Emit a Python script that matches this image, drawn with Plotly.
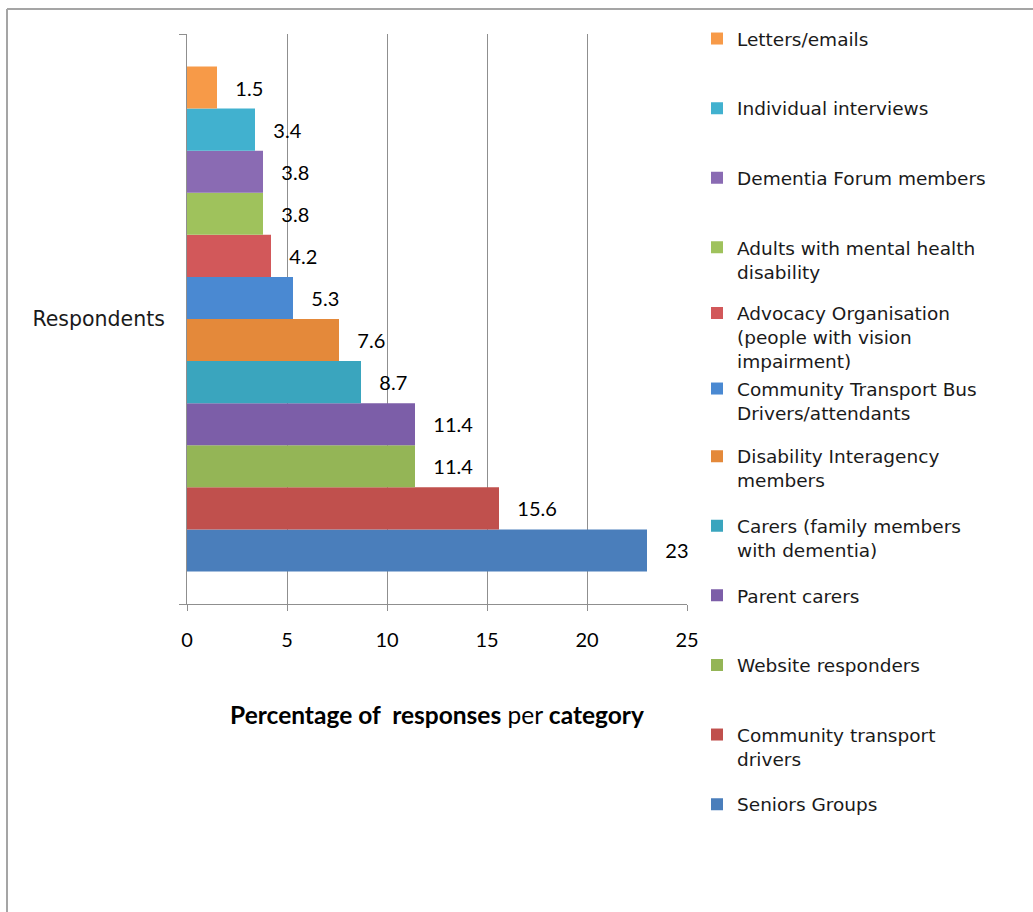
import plotly.graph_objects as go

# Respondent groups, listed from the top bar down to the bottom bar
categories = [
    "Letters/emails",
    "Individual interviews",
    "Dementia Forum members",
    "Adults with mental health<br>disability",
    "Advocacy Organisation<br>(people with vision<br>impairment)",
    "Community Transport Bus<br>Drivers/attendants",
    "Disability Interagency<br>members",
    "Carers (family members<br>with dementia)",
    "Parent carers",
    "Website responders",
    "Community transport<br>drivers",
    "Seniors Groups",
]
percentages = [1.5, 3.4, 3.8, 3.8, 4.2, 5.3, 7.6, 8.7, 11.4, 11.4, 15.6, 23]
colors = [
    "#F79A48", "#41B1CF", "#8A6BB3", "#9FC25C", "#D2585A", "#4A89D2",
    "#E4893A", "#3AA5BE", "#7C5EA8", "#94B556", "#C0504D", "#4A7EBB",
]
group_label = "Respondents"
x_ticks = [0, 5, 10, 15, 20, 25]

W, H = 1033, 912
L, R, T, B = 187, 346, 34, 308
PLOT_W = W - L - R
PLOT_H = H - T - B


def paper_x(px):
    return (px - L) / PLOT_W


def paper_y(py):
    return (H - B - py) / PLOT_H


legend_font = dict(family="DejaVu Sans", size=18.5, color="#1a1a1a")
label_font = dict(family="Lato", size=20, color="#000000")

fig = go.Figure()
n = len(categories)
# Plotly stacks grouped horizontal bars bottom-up, so add the bottom bar first
for idx in reversed(range(n)):
    legend_id = "legend" if idx == 0 else f"legend{idx + 1}"
    fig.add_trace(
        go.Bar(
            y=[group_label],
            x=[percentages[idx]],
            orientation="h",
            name=categories[idx],
            marker=dict(color=colors[idx], line=dict(width=0)),
            text=[percentages[idx]],
            texttemplate="\u00a0\u00a0\u00a0%{x}",
            textposition="outside",
            textfont=label_font,
            constraintext="none",
            cliponaxis=False,
            legend=legend_id,
            hoverinfo="x+name",
        )
    )

# One legend per series so that entries sit on an even vertical pitch;
# the three-line entry is nudged up a little to leave room below it
first_row = 37
row_pitch = 69.6
row_nudge = {4: -4, 5: 2}
legends = {}
for idx in range(n):
    key = "legend" if idx == 0 else f"legend{idx + 1}"
    top_px = first_row + idx * row_pitch - 17 + row_nudge.get(idx, 0)
    legends[key] = dict(
        x=paper_x(697),
        xanchor="left",
        y=paper_y(top_px),
        yanchor="top",
        valign="top",
        font=legend_font,
        bgcolor="rgba(0,0,0,0)",
        borderwidth=0,
        itemclick=False,
        itemdoubleclick=False,
    )

fig.update_layout(
    width=W,
    height=H,
    margin=dict(l=L, r=R, t=T, b=B, pad=0),
    paper_bgcolor="white",
    plot_bgcolor="white",
    barmode="group",
    bargap=0.114,
    bargroupgap=0,
    showlegend=True,
    font=dict(family="Lato", color="#111111"),
    **legends,
)

fig.update_xaxes(
    range=[0, 25],
    tickvals=x_ticks,
    ticktext=[str(v) for v in x_ticks],
    showgrid=True,
    gridcolor="#8f8f8f",
    gridwidth=1,
    zeroline=False,
    showline=True,
    linecolor="#8f8f8f",
    linewidth=1,
    ticks="outside",
    ticklen=6,
    tickcolor="#8f8f8f",
    tickfont=dict(family="Lato", size=20, color="#000000"),
    ticklabelstandoff=12,
    title=dict(
        text="<b>Percentage of  responses</b> per <b>category</b>",
        font=dict(family="Lato", size=24.5, color="#000000"),
        standoff=56,
    ),
    fixedrange=True,
)

fig.update_yaxes(
    type="category",
    showgrid=False,
    zeroline=False,
    showline=True,
    linecolor="#8f8f8f",
    linewidth=1,
    ticks="outside",
    tickson="boundaries",
    ticklen=7,
    tickcolor="#8f8f8f",
    tickfont=dict(family="DejaVu Sans", size=20.5, color="#1a1a1a"),
    ticklabelstandoff=17,
    fixedrange=True,
)

# Outer frame around the chart
frame_color = "#a5a5a5"
fig.add_shape(type="line", xref="paper", yref="paper",
              x0=paper_x(7), x1=paper_x(7), y0=paper_y(9), y1=paper_y(H + 5),
              line=dict(color=frame_color, width=2))
fig.add_shape(type="line", xref="paper", yref="paper",
              x0=paper_x(7), x1=paper_x(W + 5), y0=paper_y(9), y1=paper_y(9),
              line=dict(color=frame_color, width=2))

fig.write_html("out.html")
